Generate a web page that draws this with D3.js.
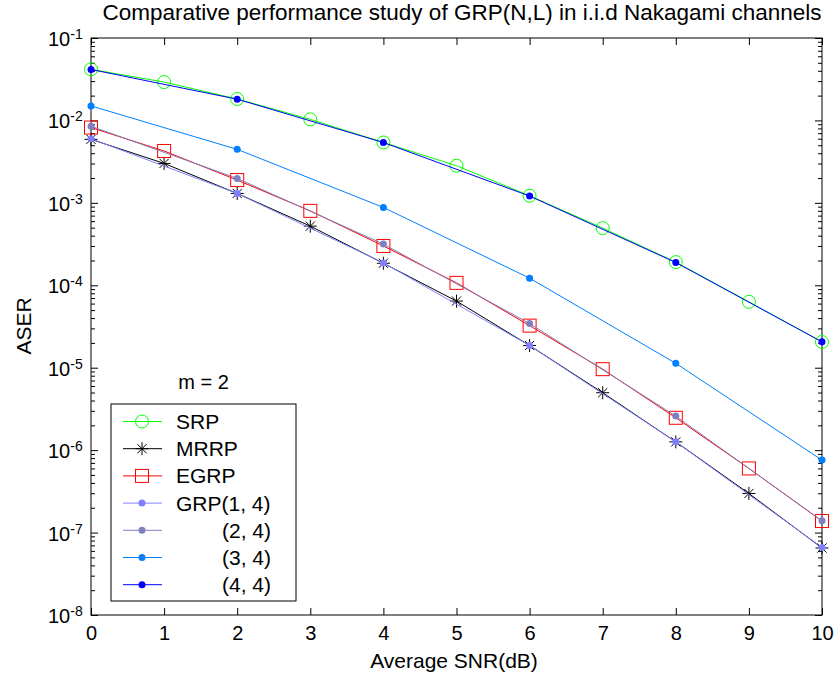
<!DOCTYPE html>
<html>
<head>
<meta charset="utf-8">
<script src="https://cdnjs.cloudflare.com/ajax/libs/d3/7.8.5/d3.min.js"></script>
<style>
  body { margin: 0; background: #fff; }
  text { font-family: "Liberation Sans", Arial, sans-serif; fill: #000; }
</style>
</head>
<body>
<svg id="chart"></svg>
<script>
// set the dimensions and margins of the graph
var margin = {top: 38, right: 14, bottom: 63, left: 91},
  width = 836 - margin.left - margin.right,
  height = 678 - margin.top - margin.bottom;

// data
var snr = [0, 1, 2, 3, 4, 5, 6, 7, 8, 9, 10],
  snrGrp = [0, 2, 4, 6, 8, 10],
  srp = [0.0417, 0.0292, 0.0182, 0.0103, 0.0054, 0.00282, 0.00122, 0.000494, 0.000191, 0.000063, 0.0000205],
  mrrp = [0.0059, 0.00301, 0.0013, 0.000522, 0.000185, 0.0000643, 0.0000186, 0.00000497, 0.00000126, 0.000000298, 0.000000065],
  egrp = [0.0082, 0.00426, 0.00189, 0.0008, 0.0003, 0.000107, 0.0000324, 0.0000096, 0.00000247, 0.0000006, 0.000000138],
  grp14 = [0.0060, 0.0013, 0.000187, 0.0000186, 0.00000126, 0.000000066],
  grp24 = [0.0085, 0.00198, 0.000316, 0.0000344, 0.00000259, 0.000000139],
  grp34 = [0.0150, 0.00446, 0.00088, 0.000122, 0.0000113, 0.000000757],
  grp44 = [0.0415, 0.0181, 0.0054, 0.00121, 0.000189, 0.0000206],
  xTicks = [0, 1, 2, 3, 4, 5, 6, 7, 8, 9, 10],
  yTickExps = [-1, -2, -3, -4, -5, -6, -7, -8],
  legendLabels = ["SRP", "MRRP", "EGRP", "GRP(1, 4)", "(2, 4)", "(3, 4)", "(4, 4)"];

var series = [
  {x: snr, y: srp, color: "#00ff00", marker: "circle"},
  {x: snr, y: mrrp, color: "#000000", marker: "star"},
  {x: snr, y: egrp, color: "#ff0000", marker: "square"},
  {x: snrGrp, y: grp14, color: "#8080ff", marker: "dot"},
  {x: snrGrp, y: grp24, color: "#8080c0", marker: "dot"},
  {x: snrGrp, y: grp34, color: "#0080ff", marker: "dot"},
  {x: snrGrp, y: grp44, color: "#0000ff", marker: "dot"}
];

var svg = d3.select("#chart")
  .attr("width", 836)
  .attr("height", 678);

var vis = svg.append("g")
  .attr("transform", "translate(" + margin.left + "," + margin.top + ")");

var x = d3.scaleLinear().domain([0, 10]).range([0, width]);
var y = d3.scaleLog().domain([1e-8, 1e-1]).range([height, 0]);

// minor log ticks (2..9 of every decade)
var minorTicks = y.ticks().filter(function(d) {
  var e = Math.log10(d);
  return Math.abs(e - Math.round(e)) > 1e-6;
});
var majorTicks = yTickExps.map(function(e) { return Math.pow(10, e); });

function styleAxis(g) {
  g.select(".domain").remove();
  g.selectAll("line").attr("stroke", "#000").attr("stroke-width", 1);
}

// x axes (bottom with labels, top without)
vis.append("g")
  .attr("transform", "translate(0," + height + ")")
  .call(d3.axisBottom(x).tickValues(xTicks).tickSize(-7).tickPadding(11).tickFormat(d3.format("d")))
  .call(styleAxis)
  .selectAll("text")
  .style("font-size", "20px")
  .style("font-family", "'Liberation Sans', Arial, sans-serif");

vis.append("g")
  .call(d3.axisTop(x).tickValues(xTicks).tickSize(-7).tickFormat(""))
  .call(styleAxis);

// y axes, major and minor ticks on both sides
vis.append("g")
  .call(d3.axisLeft(y).tickValues(majorTicks).tickSize(-7).tickFormat(""))
  .call(styleAxis);
vis.append("g")
  .call(d3.axisLeft(y).tickValues(minorTicks).tickSize(-4).tickFormat(""))
  .call(styleAxis);
vis.append("g")
  .attr("transform", "translate(" + width + ",0)")
  .call(d3.axisRight(y).tickValues(majorTicks).tickSize(-7).tickFormat(""))
  .call(styleAxis);
vis.append("g")
  .attr("transform", "translate(" + width + ",0)")
  .call(d3.axisRight(y).tickValues(minorTicks).tickSize(-4).tickFormat(""))
  .call(styleAxis);

// y tick labels as 10^e
var yLab = vis.selectAll(".ylab")
  .data(yTickExps).enter()
  .append("text")
  .attr("class", "ylab")
  .attr("x", -43)
  .attr("y", function(d) { return y(Math.pow(10, d)) + 8; })
  .style("font-size", "20px");
yLab.append("tspan").text("10");
yLab.append("tspan")
  .attr("dy", -7)
  .style("font-size", "14px")
  .text(function(d) { return d; });

// frame
vis.append("rect")
  .attr("width", width)
  .attr("height", height)
  .attr("fill", "none")
  .attr("stroke", "#000")
  .attr("stroke-width", 1);

// lines
var line = d3.line()
  .x(function(d) { return x(d[0]); })
  .y(function(d) { return y(d[1]); });

function pts(s) {
  return s.x.map(function(v, i) { return [v, s.y[i]]; });
}

function drawMarker(g, type, color, cx, cy) {
  if (type === "circle") {
    g.append("circle").attr("cx", cx).attr("cy", cy).attr("r", 6.5)
      .attr("fill", "none").attr("stroke", color).attr("stroke-width", 1);
  } else if (type === "square") {
    g.append("rect").attr("x", cx - 6.5).attr("y", cy - 6.5)
      .attr("width", 13).attr("height", 13)
      .attr("fill", "none").attr("stroke", color).attr("stroke-width", 1);
  } else if (type === "star") {
    var r = 6.5, q = 4.6;
    g.append("path")
      .attr("d", "M" + (cx - r) + "," + cy + "H" + (cx + r) +
        "M" + cx + "," + (cy - r) + "V" + (cy + r) +
        "M" + (cx - q) + "," + (cy - q) + "L" + (cx + q) + "," + (cy + q) +
        "M" + (cx - q) + "," + (cy + q) + "L" + (cx + q) + "," + (cy - q))
      .attr("stroke", color).attr("stroke-width", 1).attr("fill", "none");
  } else {
    g.append("circle").attr("cx", cx).attr("cy", cy).attr("r", 3.5)
      .attr("fill", color).attr("stroke", "none");
  }
}

series.forEach(function(s) {
  var g = vis.append("g");
  g.append("path")
    .datum(pts(s))
    .attr("d", line)
    .attr("fill", "none")
    .attr("stroke", s.color)
    .attr("stroke-width", 1);
  pts(s).forEach(function(p) {
    drawMarker(g, s.marker, s.color, x(p[0]), y(p[1]));
  });
});

// legend
var leg = vis.append("g").attr("transform", "translate(20,366)");
leg.append("text")
  .attr("x", 92.5)
  .attr("y", -15)
  .attr("text-anchor", "middle")
  .style("font-size", "20px")
  .text("m = 2");
leg.append("rect")
  .attr("width", 185)
  .attr("height", 197)
  .attr("fill", "#fff")
  .attr("stroke", "#000")
  .attr("stroke-width", 1);

series.forEach(function(s, i) {
  var ry = 17.5 + i * 27.2;
  var row = leg.append("g");
  row.append("line")
    .attr("x1", 12).attr("x2", 51)
    .attr("y1", ry).attr("y2", ry)
    .attr("stroke", s.color).attr("stroke-width", 1);
  drawMarker(row, s.marker, s.color, 31, ry);
  row.append("text")
    .attr("x", i < 4 ? 65 : 160)
    .attr("y", ry + 7.5)
    .attr("text-anchor", i < 4 ? "start" : "end")
    .style("font-size", "21px")
    .text(legendLabels[i]);
});

// title and axis labels
svg.append("text")
  .attr("x", 462)
  .attr("y", 20)
  .attr("text-anchor", "middle")
  .style("font-size", "22.5px")
  .text("Comparative performance study of GRP(N,L) in i.i.d Nakagami channels");

svg.append("text")
  .attr("x", 454)
  .attr("y", 668)
  .attr("text-anchor", "middle")
  .style("font-size", "21px")
  .text("Average SNR(dB)");

svg.append("text")
  .attr("transform", "translate(31,326) rotate(-90)")
  .attr("text-anchor", "middle")
  .style("font-size", "21px")
  .text("ASER");
</script>
</body>
</html>
